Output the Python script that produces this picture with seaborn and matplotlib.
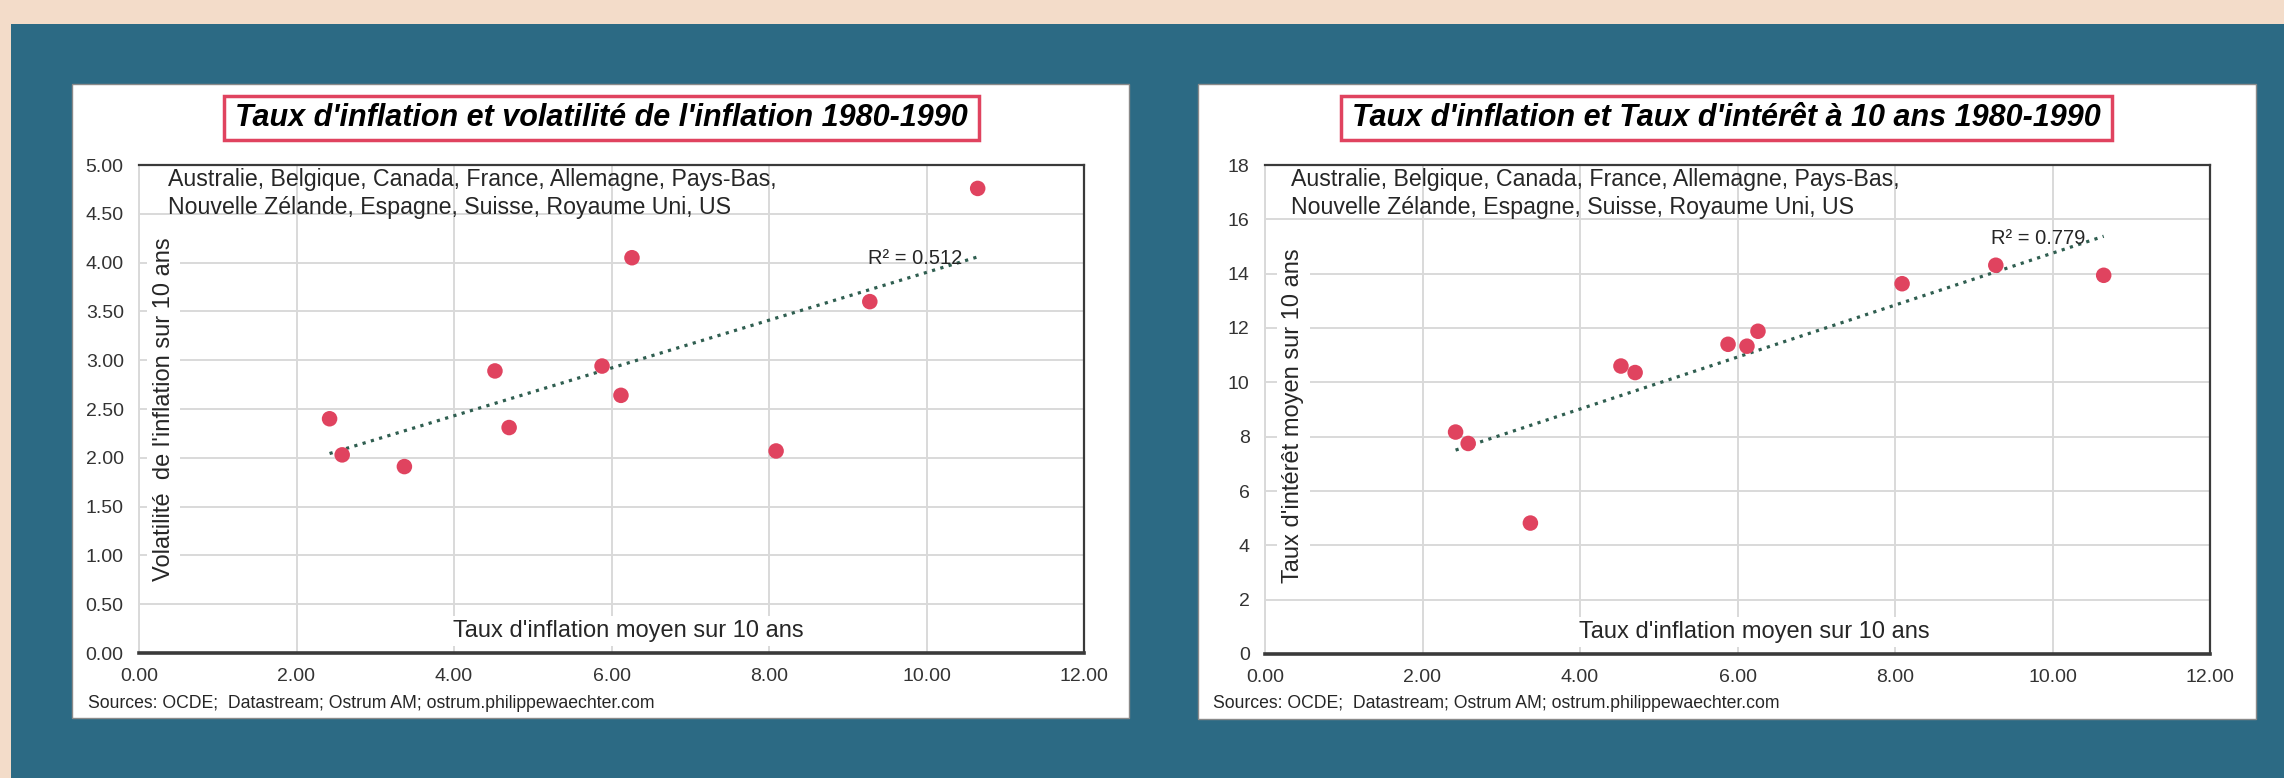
import numpy as np
import matplotlib
matplotlib.use("Agg")
import matplotlib.pyplot as plt
from matplotlib.patches import Rectangle
import seaborn as sns

# ---------------- data ----------------
inflation = [2.42, 2.58, 3.37, 4.52, 4.70, 5.88, 6.12, 6.26, 8.09, 9.28, 10.65]
volatilite = [2.40, 2.03, 1.91, 2.89, 2.31, 2.94, 2.64, 4.05, 2.07, 3.60, 4.76]
taux_interet = [8.17, 7.75, 4.82, 10.60, 10.36, 11.40, 11.33, 11.88, 13.63, 14.31, 13.94]

x_ticks = [0, 2, 4, 6, 8, 10, 12]
y1_ticks = [0.0, 0.5, 1.0, 1.5, 2.0, 2.5, 3.0, 3.5, 4.0, 4.5, 5.0]
y2_ticks = [0, 2, 4, 6, 8, 10, 12, 14, 16, 18]

titles = ["Taux d'inflation et volatilité de l'inflation 1980-1990",
          "Taux d'inflation et Taux d'intérêt à 10 ans 1980-1990"]
ylabels = ["Volatilité  de l'inflation sur 10 ans",
           "Taux d'intérêt moyen sur 10 ans"]
xlabel = "Taux d'inflation moyen sur 10 ans"
r2_labels = ["R² = 0.512", "R² = 0.779"]
note = ("Australie, Belgique, Canada, France, Allemagne, Pays-Bas,\n"
        "Nouvelle Zélande, Espagne, Suisse, Royaume Uni, US")
source = "Sources: OCDE;  Datastream; Ostrum AM; ostrum.philippewaechter.com"

# ---------------- style ----------------
sns.set_theme(style="white")
plt.rcParams['font.family'] = ['Liberation Sans', 'DejaVu Sans']
plt.rcParams['savefig.bbox'] = 'standard'
plt.rcParams['savefig.transparent'] = False

W, H = 2284, 778
BEIGE = '#F3DCC9'
BLUE = '#2C6A84'
RED = '#E0435F'
TREND = '#2F5E50'
GRID = '#D9D9D9'
TXT = '#262626'

fig = plt.figure(figsize=(W / 100, H / 100), dpi=100, facecolor=BLUE)


def rect(x0, y0, x1, y1, **kw):
    r = Rectangle((x0 / W, 1 - y1 / H), (x1 - x0) / W, (y1 - y0) / H,
                  transform=fig.transFigure, figure=fig, **kw)
    fig.patches.append(r)
    return r


# beige strips (top and left)
rect(0, 0, W, 24, facecolor=BEIGE, edgecolor='none', zorder=0)
rect(0, 0, 11, H, facecolor=BEIGE, edgecolor='none', zorder=0)

panels = [
    dict(box=(72, 84, 1129, 718), ax=(139, 165, 1084, 653), tbox=(224, 96, 979, 140),
         y=volatilite, yt=y1_ticks, ylim=(0, 5), yfmt='{:.2f}',
         r2=(10.45, 4.04), ylab_x=0.026, ylab_y=0.50, note_x=0.031, src_x=88),
    dict(box=(1198, 84, 2256, 719), ax=(1265, 165, 2210, 654), tbox=(1341, 96, 2112, 140),
         y=taux_interet, yt=y2_ticks, ylim=(0, 18), yfmt='{:.0f}',
         r2=(10.42, 15.31), ylab_x=0.030, ylab_y=0.488, note_x=0.027, src_x=1213),
]

for i, p in enumerate(panels):
    bx = p['box']
    rect(*bx, facecolor='white', edgecolor='#8a8a8a', linewidth=1.0, zorder=1)
    tb = p['tbox']
    rect(*tb, facecolor='white', edgecolor=RED, linewidth=2.5, zorder=2)
    fig.text((tb[0] + tb[2]) / 2 / W, 1 - (tb[1] + tb[3]) / 2 / H, titles[i],
             ha='center', va='center', fontsize=22, fontweight='bold', fontstyle='italic',
             color='black', zorder=3)
    fig.text(p['src_x'] / W, 1 - 704 / H, source, ha='left', va='center',
             fontsize=12.7, color=TXT, zorder=3)

    a = p['ax']
    ax = fig.add_axes([a[0] / W, 1 - a[3] / H, (a[2] - a[0]) / W, (a[3] - a[1]) / H])
    ax.set_zorder(5)
    ax.set_facecolor('white')

    sns.regplot(x=inflation, y=p['y'], ax=ax, scatter=False, ci=None, truncate=True,
                color=TREND, line_kws=dict(linestyle=(0, (1, 1.7)), linewidth=2.3))
    sns.scatterplot(x=inflation, y=p['y'], ax=ax, color=RED, s=125,
                    edgecolor='none', linewidth=0, zorder=3)

    ax.set_xlim(0, 12)
    ax.set_ylim(*p['ylim'])
    ax.set_xticks(x_ticks)
    ax.set_xticklabels(['{:.2f}'.format(v) for v in x_ticks])
    ax.set_yticks(p['yt'])
    ax.set_yticklabels([p['yfmt'].format(v) for v in p['yt']])
    ax.set_xlabel('')
    ax.set_ylabel('')
    ax.grid(True, color=GRID, linewidth=1.4)
    ax.set_axisbelow(True)
    ax.tick_params(axis='both', length=0, pad=11, labelsize=14, labelcolor='#333333')
    for s in ['top', 'right']:
        ax.spines[s].set_color('#3a3a3a')
        ax.spines[s].set_linewidth(1.6)
    ax.spines['bottom'].set_color('#3a3a3a')
    ax.spines['bottom'].set_linewidth(2.6)
    ax.spines['left'].set_color(GRID)
    ax.spines['left'].set_linewidth(1.4)

    ax.text(p['note_x'], 0.994, note, transform=ax.transAxes, ha='left', va='top',
            fontsize=16.7, color=TXT, linespacing=1.3, zorder=4)
    ax.text(p['ylab_x'], p['ylab_y'], ylabels[i], transform=ax.transAxes, rotation=90,
            ha='center', va='center', fontsize=17, color=TXT, zorder=2.2,
            bbox=dict(facecolor='white', edgecolor='none', pad=4))
    ax.text(0.518, 0.045, xlabel, transform=ax.transAxes, ha='center', va='center',
            fontsize=17, color=TXT, zorder=2.2,
            bbox=dict(facecolor='white', edgecolor='none', pad=3))
    ax.text(p['r2'][0], p['r2'][1], r2_labels[i], ha='right', va='center',
            fontsize=14.5, color=TXT, zorder=4)

fig.savefig('out.png', dpi=100, facecolor=BLUE, bbox_inches=None)

img = plt.imread('out.png')
px = img[H - 5, W - 5] if img.shape[0] >= H and img.shape[1] >= W else None
if img.shape[:2] != (H, W) or (px is not None and px[0] > 0.6):
    raise SystemExit("DIAG shape=%s corner=%s" % (img.shape, None if px is None else px.tolist()))
